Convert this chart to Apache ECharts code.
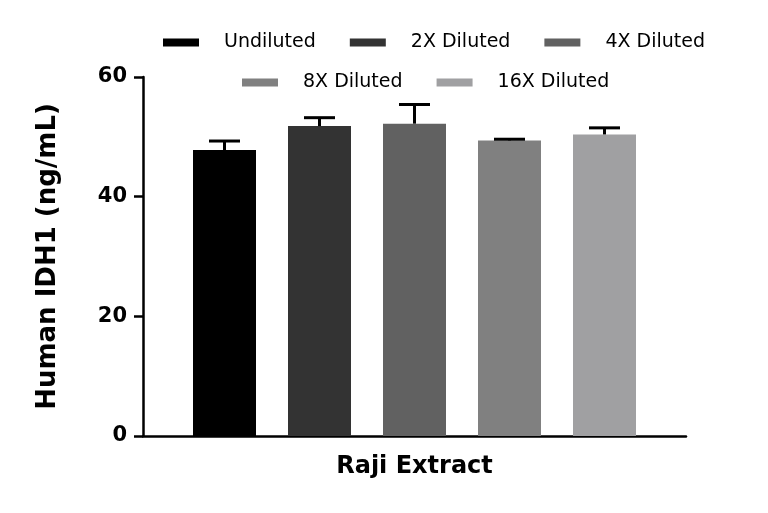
<!DOCTYPE html>
<html>
<head>
<meta charset="utf-8">
<script src="https://cdn.jsdelivr.net/npm/echarts@6/dist/echarts.min.js"></script>
<style>html,body{margin:0;padding:0;background:#fff}#c{width:768px;height:513px}</style>
</head>
<body>
<div id="c"></div>
<script>
const categories = ['Raji Extract'];
const seriesNames = ['Undiluted', '2X Diluted', '4X Diluted', '8X Diluted', '16X Diluted'];
const means = [47.8, 51.8, 52.2, 49.4, 50.4];
const errors = [1.5, 1.4, 3.2, 0.2, 1.1];
const colors = ['#000000', '#333333', '#616161', '#808080', '#a0a0a2'];
const yTicks = [0, 20, 40, 60];

const BAR_W = 63, BAR_GAP = 32;
const font = 'DejaVu Sans';

const series = [];
seriesNames.forEach((n, i) => {
  series.push({
    name: n, type: 'bar', barWidth: BAR_W, barGap: (BAR_GAP / BAR_W * 100) + '%',
    itemStyle: { color: colors[i] },
    data: [means[i]], z: 2
  });
});
seriesNames.forEach((n, i) => {
  series.push({
    type: 'custom', name: n + ' err', z: 3, silent: true,
    data: [[0, means[i], means[i] + errors[i]]],
    renderItem: function (params, api) {
      const lo = api.coord([api.value(0), api.value(1)]);
      const hi = api.coord([api.value(0), api.value(2)]);
      const off = (i - (seriesNames.length - 1) / 2) * (BAR_W + BAR_GAP);
      const x = lo[0] + off;
      const half = 15.5;
      const st = { stroke: '#000', lineWidth: 3 };
      return { type: 'group', children: [
        { type: 'line', shape: { x1: x, y1: lo[1], x2: x, y2: hi[1] }, style: st },
        { type: 'line', shape: { x1: x - half, y1: hi[1], x2: x + half, y2: hi[1] }, style: st }
      ]};
    }
  });
});

const legendCommon = {
  itemWidth: 36, itemHeight: 8, itemGap: 34, icon: 'rect',
  textStyle: { fontFamily: font, fontSize: 19, color: '#000', padding: [0, 0, 0, 20] }
};

const chart = echarts.init(document.getElementById('c'));
chart.setOption({
  animation: false,
  legend: [
    Object.assign({ top: 28, left: 158, data: seriesNames.slice(0, 3) }, legendCommon),
    Object.assign({ top: 68, left: 237, data: seriesNames.slice(3) }, legendCommon)
  ],
  grid: { left: 143, right: 82, top: 77, bottom: 77 },
  xAxis: {
    type: 'category', data: categories,
    axisLine: { lineStyle: { color: '#000', width: 2.5 } },
    axisTick: { alignWithLabel: true, length: 9, lineStyle: { color: '#000', width: 2.5 } },
    axisLabel: { show: false },
    name: categories[0], nameLocation: 'middle', nameGap: 19,
    nameTextStyle: { fontFamily: font, fontWeight: 'bold', fontSize: 24, color: '#000' }
  },
  yAxis: {
    type: 'value', min: yTicks[0], max: yTicks[yTicks.length - 1], interval: 20,
    splitLine: { show: false },
    axisLine: { show: true, lineStyle: { color: '#000', width: 2.5 } },
    axisTick: { show: true, length: 9, lineStyle: { color: '#000', width: 2.5 } },
    axisLabel: { fontFamily: font, fontWeight: 'bold', fontSize: 21, color: '#000', margin: 16 },
    name: 'Human IDH1 (ng/mL)', nameLocation: 'middle', nameGap: 82,
    nameTextStyle: { fontFamily: font, fontWeight: 'bold', fontSize: 26, color: '#000' }
  },
  series: series
});
</script>
</body>
</html>
